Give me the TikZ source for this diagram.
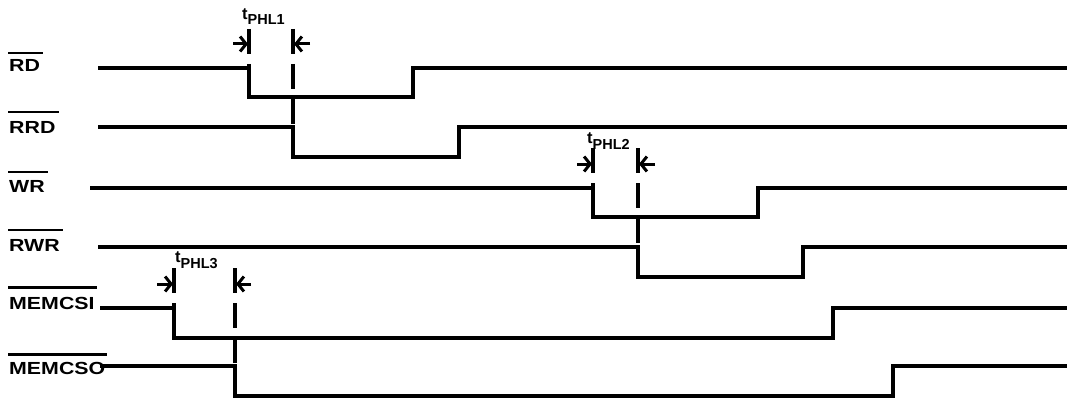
\documentclass[tikz,border=0pt]{standalone}
\usepackage{fontspec}
\setmainfont{Liberation Sans}
\newfontfamily\sigfont[FakeStretch=1.22]{Liberation Sans}
\usetikzlibrary{arrows.meta}

\begin{document}
\begin{tikzpicture}[x=1pt,y=-1pt,
  sig/.style={draw=black,line width=3.2pt},
  tick/.style={draw=black,line width=3.2pt,dash pattern=on 25pt off 10pt},
  dim/.style={draw=black,line width=3pt,-{Straight Barb[length=6pt,width=15pt]}},
  lbl/.style={anchor=base west,inner sep=0pt,font=\sigfont\bfseries\fontsize{17.5}{18}\selectfont},
  bar/.style={draw=black,line width=2.3pt},
  tlbl/.style={anchor=base west,inner sep=0pt,font=\bfseries\fontsize{16.5}{16}\selectfont}]

\useasboundingbox (0,0) rectangle (1067,401);

%rd
\node[lbl] (lrd) at (9,72) {RD};
\path[bar] ([xshift=-1pt,yshift=7pt]lrd.north west) -- ([xshift=3pt,yshift=7pt]lrd.north east);
\path[sig] (98,68) -- (249,68) -- (249,97) -- (413,97) -- (413,68) -- (1067,68);

%rrd
\node[lbl] (lrrd) at (9,133) {RRD};
\path[bar] ([xshift=-1pt,yshift=9pt]lrrd.north west) -- ([xshift=3pt,yshift=9pt]lrrd.north east);
\path[sig] (98,127) -- (293,127) -- (293,157) -- (459,157) -- (459,127) -- (1067,127);

%wr
\node[lbl] (lwr) at (9,192) {WR};
\path[bar] ([xshift=-1pt,yshift=8pt]lwr.north west) -- ([xshift=3pt,yshift=8pt]lwr.north east);
\path[sig] (90,188) -- (593,188) -- (593,217) -- (758,217) -- (758,188) -- (1067,188);

%rwr
\node[lbl] (lrwr) at (9,251) {RWR};
\path[bar] ([xshift=-1pt,yshift=9pt]lrwr.north west) -- ([xshift=3pt,yshift=9pt]lrwr.north east);
\path[sig] (98,247) -- (638,247) -- (638,277) -- (803,277) -- (803,247) -- (1067,247);

%memcsi
\node[lbl] (lmemcsi) at (9,309) {MEMCSI};
\path[bar] ([xshift=-1pt,yshift=9pt]lmemcsi.north west) -- ([xshift=2pt,yshift=9pt]lmemcsi.north east);
\path[sig] (100,308) -- (174,308) -- (174,338) -- (833,338) -- (833,308) -- (1067,308);

%memcso
\node[lbl] (lmemcso) at (9,374) {MEMCSO};
\path[bar] ([xshift=-1pt,yshift=7pt]lmemcso.north west) -- ([xshift=2pt,yshift=7pt]lmemcso.north east);
\path[sig] (100,366) -- (235,366) -- (235,396) -- (893,396) -- (893,366) -- (1067,366);

%tphl1
\node[tlbl] (t1) at (242,20) {t\raisebox{-5pt}{\fontsize{14.5}{14}\selectfont PHL1}};
\path[tick] (249,29) -- (249,68);
\path[tick] (293,29) -- (293,127);
\path[dim] (233,44) -- (248,44);
\path[dim] (310,44) -- (294,44);

%tphl2
\node[tlbl] (t2) at (587,143) {t\raisebox{-6pt}{\fontsize{14.5}{14}\selectfont PHL2}};
\path[tick] (593,148) -- (593,188);
\path[tick] (638,148) -- (638,247);
\path[dim] (577,164) -- (592,164);
\path[dim] (655,164) -- (639,164);

%tphl3
\node[tlbl] (t3) at (175,262) {t\raisebox{-6pt}{\fontsize{14.5}{14}\selectfont PHL3}};
\path[tick] (174,268) -- (174,308);
\path[tick] (235,268) -- (235,366);
\path[dim] (157,284) -- (173,284);
\path[dim] (251,284) -- (236,284);

\end{tikzpicture}
\end{document}
